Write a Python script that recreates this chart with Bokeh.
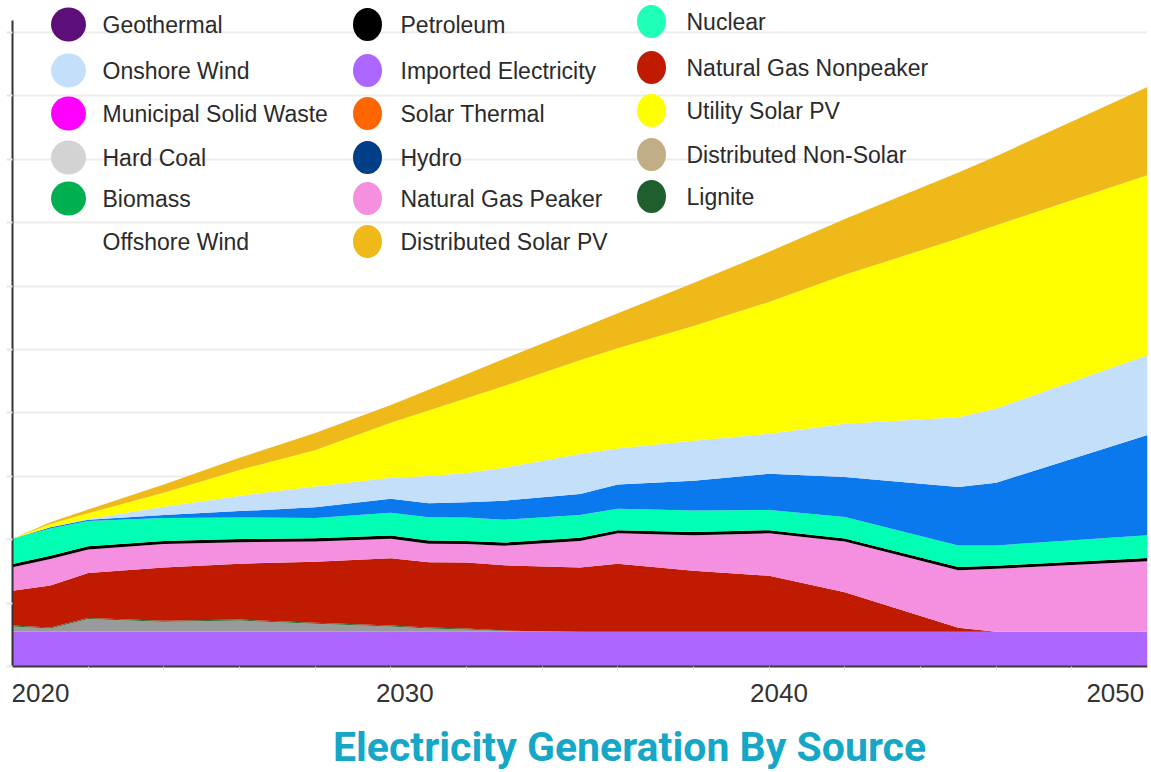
from bokeh.plotting import figure
from bokeh.models import ColumnDataSource, FixedTicker, Label
from bokeh.embed import file_html
from bokeh.resources import INLINE
from bokeh.core.properties import value

# ---------------- data (units) ----------------
years = [2020, 2021, 2022, 2024, 2026, 2028, 2030, 2031, 2032, 2033, 2035,
         2036, 2038, 2040, 2042, 2045, 2046, 2050]

imported_electricity = [0.55, 0.55, 0.55, 0.55, 0.55, 0.55, 0.55, 0.55, 0.55,
                        0.55, 0.55, 0.55, 0.55, 0.55, 0.55, 0.55, 0.55, 0.55]
hard_coal = [0.08, 0.05, 0.20, 0.155, 0.175, 0.125, 0.08, 0.05, 0.035, 0.01,
             0.0, 0.0, 0.0, 0.0, 0.0, 0.0, 0.0, 0.0]
lignite = [0.016, 0.016, 0.016, 0.016, 0.016, 0.016, 0.016, 0.016, 0.016, 0.006,
           0.0, 0.0, 0.0, 0.0, 0.0, 0.0, 0.0, 0.0]
gas_nonpeaker = [0.55, 0.66, 0.71, 0.84, 0.88, 0.96, 1.06, 1.03, 1.04, 1.03,
                 1.01, 1.07, 0.96, 0.88, 0.62, 0.06, 0.0, 0.0]
gas_peaker = [0.37, 0.42, 0.37, 0.37, 0.34, 0.32, 0.31, 0.29, 0.29, 0.31,
              0.42, 0.48, 0.56, 0.67, 0.80, 0.91, 0.99, 1.11]
petroleum = [0.05, 0.05, 0.05, 0.05, 0.05, 0.05, 0.05, 0.05, 0.05, 0.05,
             0.05, 0.05, 0.05, 0.05, 0.05, 0.05, 0.05, 0.05]
nuclear = [0.40, 0.43, 0.40, 0.36, 0.34, 0.32, 0.36, 0.37, 0.37, 0.36,
           0.36, 0.34, 0.34, 0.32, 0.34, 0.34, 0.32, 0.36]
offshore_wind = [0.0, 0.02, 0.02, 0.05, 0.10, 0.17, 0.22, 0.22, 0.24, 0.30,
                 0.33, 0.38, 0.47, 0.57, 0.63, 0.92, 0.99, 1.58]
onshore_wind = [0.0, 0.0, 0.01, 0.13, 0.24, 0.33, 0.33, 0.43, 0.46, 0.52,
                0.63, 0.57, 0.63, 0.63, 0.84, 1.10, 1.17, 1.26]
utility_solar = [0.0, 0.05, 0.09, 0.22, 0.41, 0.57, 0.87, 1.03, 1.18, 1.29,
                 1.48, 1.58, 1.81, 2.08, 2.35, 2.82, 2.89, 2.84]
distributed_solar = [0.0, 0.03, 0.06, 0.13, 0.19, 0.27, 0.28, 0.33, 0.38, 0.43,
                     0.50, 0.55, 0.68, 0.79, 0.88, 1.04, 1.09, 1.39]

stack_names = ["Imported Electricity", "Hard Coal", "Lignite", "Natural Gas Nonpeaker",
               "Natural Gas Peaker", "Petroleum", "Nuclear", "Offshore Wind",
               "Onshore Wind", "Utility Solar PV", "Distributed Solar PV"]
stack_values = [imported_electricity, hard_coal, lignite, gas_nonpeaker, gas_peaker,
                petroleum, nuclear, offshore_wind, onshore_wind, utility_solar,
                distributed_solar]
stack_colors = ["#ad66ff", "#9a9a9a", "#2a6e35", "#c01a00", "#f490df", "#000000",
                "#00ffb2", "#0a79ee", "#c3dffa", "#ffff00", "#efb91a"]

legend_names = ["Geothermal", "Onshore Wind", "Municipal Solid Waste", "Hard Coal",
                "Biomass", "Offshore Wind",
                "Petroleum", "Imported Electricity", "Solar Thermal", "Hydro",
                "Natural Gas Peaker", "Distributed Solar PV",
                "Nuclear", "Natural Gas Nonpeaker", "Utility Solar PV",
                "Distributed Non-Solar", "Lignite"]
legend_colors = ["#5c0f78", "#c3dffa", "#ff00ff", "#d3d3d3", "#00b050", None,
                 "#000000", "#ad66ff", "#ff6600", "#003f87", "#f490df", "#efb91a",
                 "#1effb7", "#c01a00", "#ffff00", "#c2ae86", "#1f5f2e"]

tick_labels = ["2020", "2030", "2040", "2050"]
title_text = "Electricity Generation By Source"

# ---------------- layout constants (page pixels) ----------------
W, H = 1151, 772
BORDER_L, BORDER_R, BORDER_T = 12, 4, 4
AXIS_Y = 666                       # page y of the value 0 (x-axis line)
X0, X1 = 2020, 2050
PX_PER_UNIT = 63.4
Y_START = -(H - AXIS_Y) / PX_PER_UNIT
Y_END = (AXIS_Y - BORDER_T) / PX_PER_UNIT
PX_PER_YEAR = (W - BORDER_L - BORDER_R) / (X1 - X0)


def page_x(px):
    return X0 + (px - BORDER_L) / PX_PER_YEAR


def page_y(py):
    return (AXIS_Y - py) / PX_PER_UNIT


# ---------------- figure ----------------
p = figure(width=W, height=H, x_range=(X0, X1), y_range=(Y_START, Y_END),
           output_backend="svg", toolbar_location=None,
           min_border_left=BORDER_L, min_border_right=BORDER_R,
           min_border_top=BORDER_T, min_border_bottom=0)
p.outline_line_color = None
p.background_fill_color = "white"
p.border_fill_color = "white"

data = {"year": years}
for n, v in zip(stack_names, stack_values):
    data[n] = v
src = ColumnDataSource(data)
p.varea_stack(stackers=stack_names, x="year", color=stack_colors, source=src)

# grid and axes
p.xgrid.visible = False
p.ygrid.ticker = FixedTicker(ticks=list(range(1, 11)))
p.ygrid.grid_line_color = "#ececec"
p.ygrid.grid_line_width = 2

p.yaxis.ticker = FixedTicker(ticks=[], minor_ticks=list(range(0, 11)))
p.yaxis.minor_tick_in = 0
p.yaxis.minor_tick_out = 6
p.yaxis.minor_tick_line_color = "#e6e6e6"
p.yaxis.minor_tick_line_width = 2
p.yaxis.major_tick_line_color = None
p.yaxis.axis_line_color = "#333333"
p.yaxis.axis_line_width = 2
p.yaxis.bounds = (0, 10.19)

tick_pos = [2020.74, 2030.37, 2040.26, 2049.15]
p.xaxis.fixed_location = 0
p.xaxis.ticker = FixedTicker(ticks=tick_pos, minor_ticks=list(range(2020, 2051, 2)))
p.xaxis.major_label_overrides = {t: l for t, l in zip(tick_pos, tick_labels)}
p.xaxis.major_tick_in = 0
p.xaxis.major_tick_out = 0
p.xaxis.minor_tick_in = 0
p.xaxis.minor_tick_out = 3
p.xaxis.minor_tick_line_color = "#d9d9d9"
p.xaxis.axis_line_color = "#3a3a3a"
p.xaxis.axis_line_width = 2
p.xaxis.major_label_text_font = "Liberation Sans"
p.xaxis.major_label_text_font_size = "26px"
p.xaxis.major_label_text_color = "#333333"
p.xaxis.major_label_standoff = 14

# legend (manual, three columns)
col_circle_x = [68, 367, 651]
col_text_x = [102, 400, 686]
col_rows = [[24, 70, 113, 157, 198, 241], [24, 70, 113, 157, 198, 241],
            [21, 67, 110, 154, 196]]
col_size = [(35, 34), (29, 33), (29, 33)]

cx, cy, cw, ch, cc = [], [], [], [], []
tx, ty = [], []
k = 0
for c in range(3):
    for ry in col_rows[c]:
        if legend_colors[k] is not None:
            cx.append(page_x(col_circle_x[c]))
            cy.append(page_y(ry))
            cw.append(col_size[c][0])
            ch.append(col_size[c][1])
            cc.append(legend_colors[k])
        tx.append(page_x(col_text_x[c]))
        ty.append(page_y(ry))
        k += 1

p.ellipse(x="x", y="y", width="w", height="h", width_units="screen",
          height_units="screen", fill_color="c", line_color=None,
          source=ColumnDataSource(dict(x=cx, y=cy, w=cw, h=ch, c=cc)))
p.text(x="x", y="y", text="t", source=ColumnDataSource(dict(x=tx, y=ty, t=legend_names)),
       text_font=value("Liberation Sans"), text_font_size="23px",
       text_color="#2b2b2b", text_baseline="middle", text_align="left")

# chart title, centred under the axis labels
title = Label(x=page_x(629), y=page_y(746), text=title_text,
              text_align="center", text_baseline="middle",
              text_font="Roboto", text_font_size="41px", text_font_style="bold",
              text_color="#17a7c6")
p.add_layout(title)

open("out.html", "w").write(file_html(p, INLINE))
